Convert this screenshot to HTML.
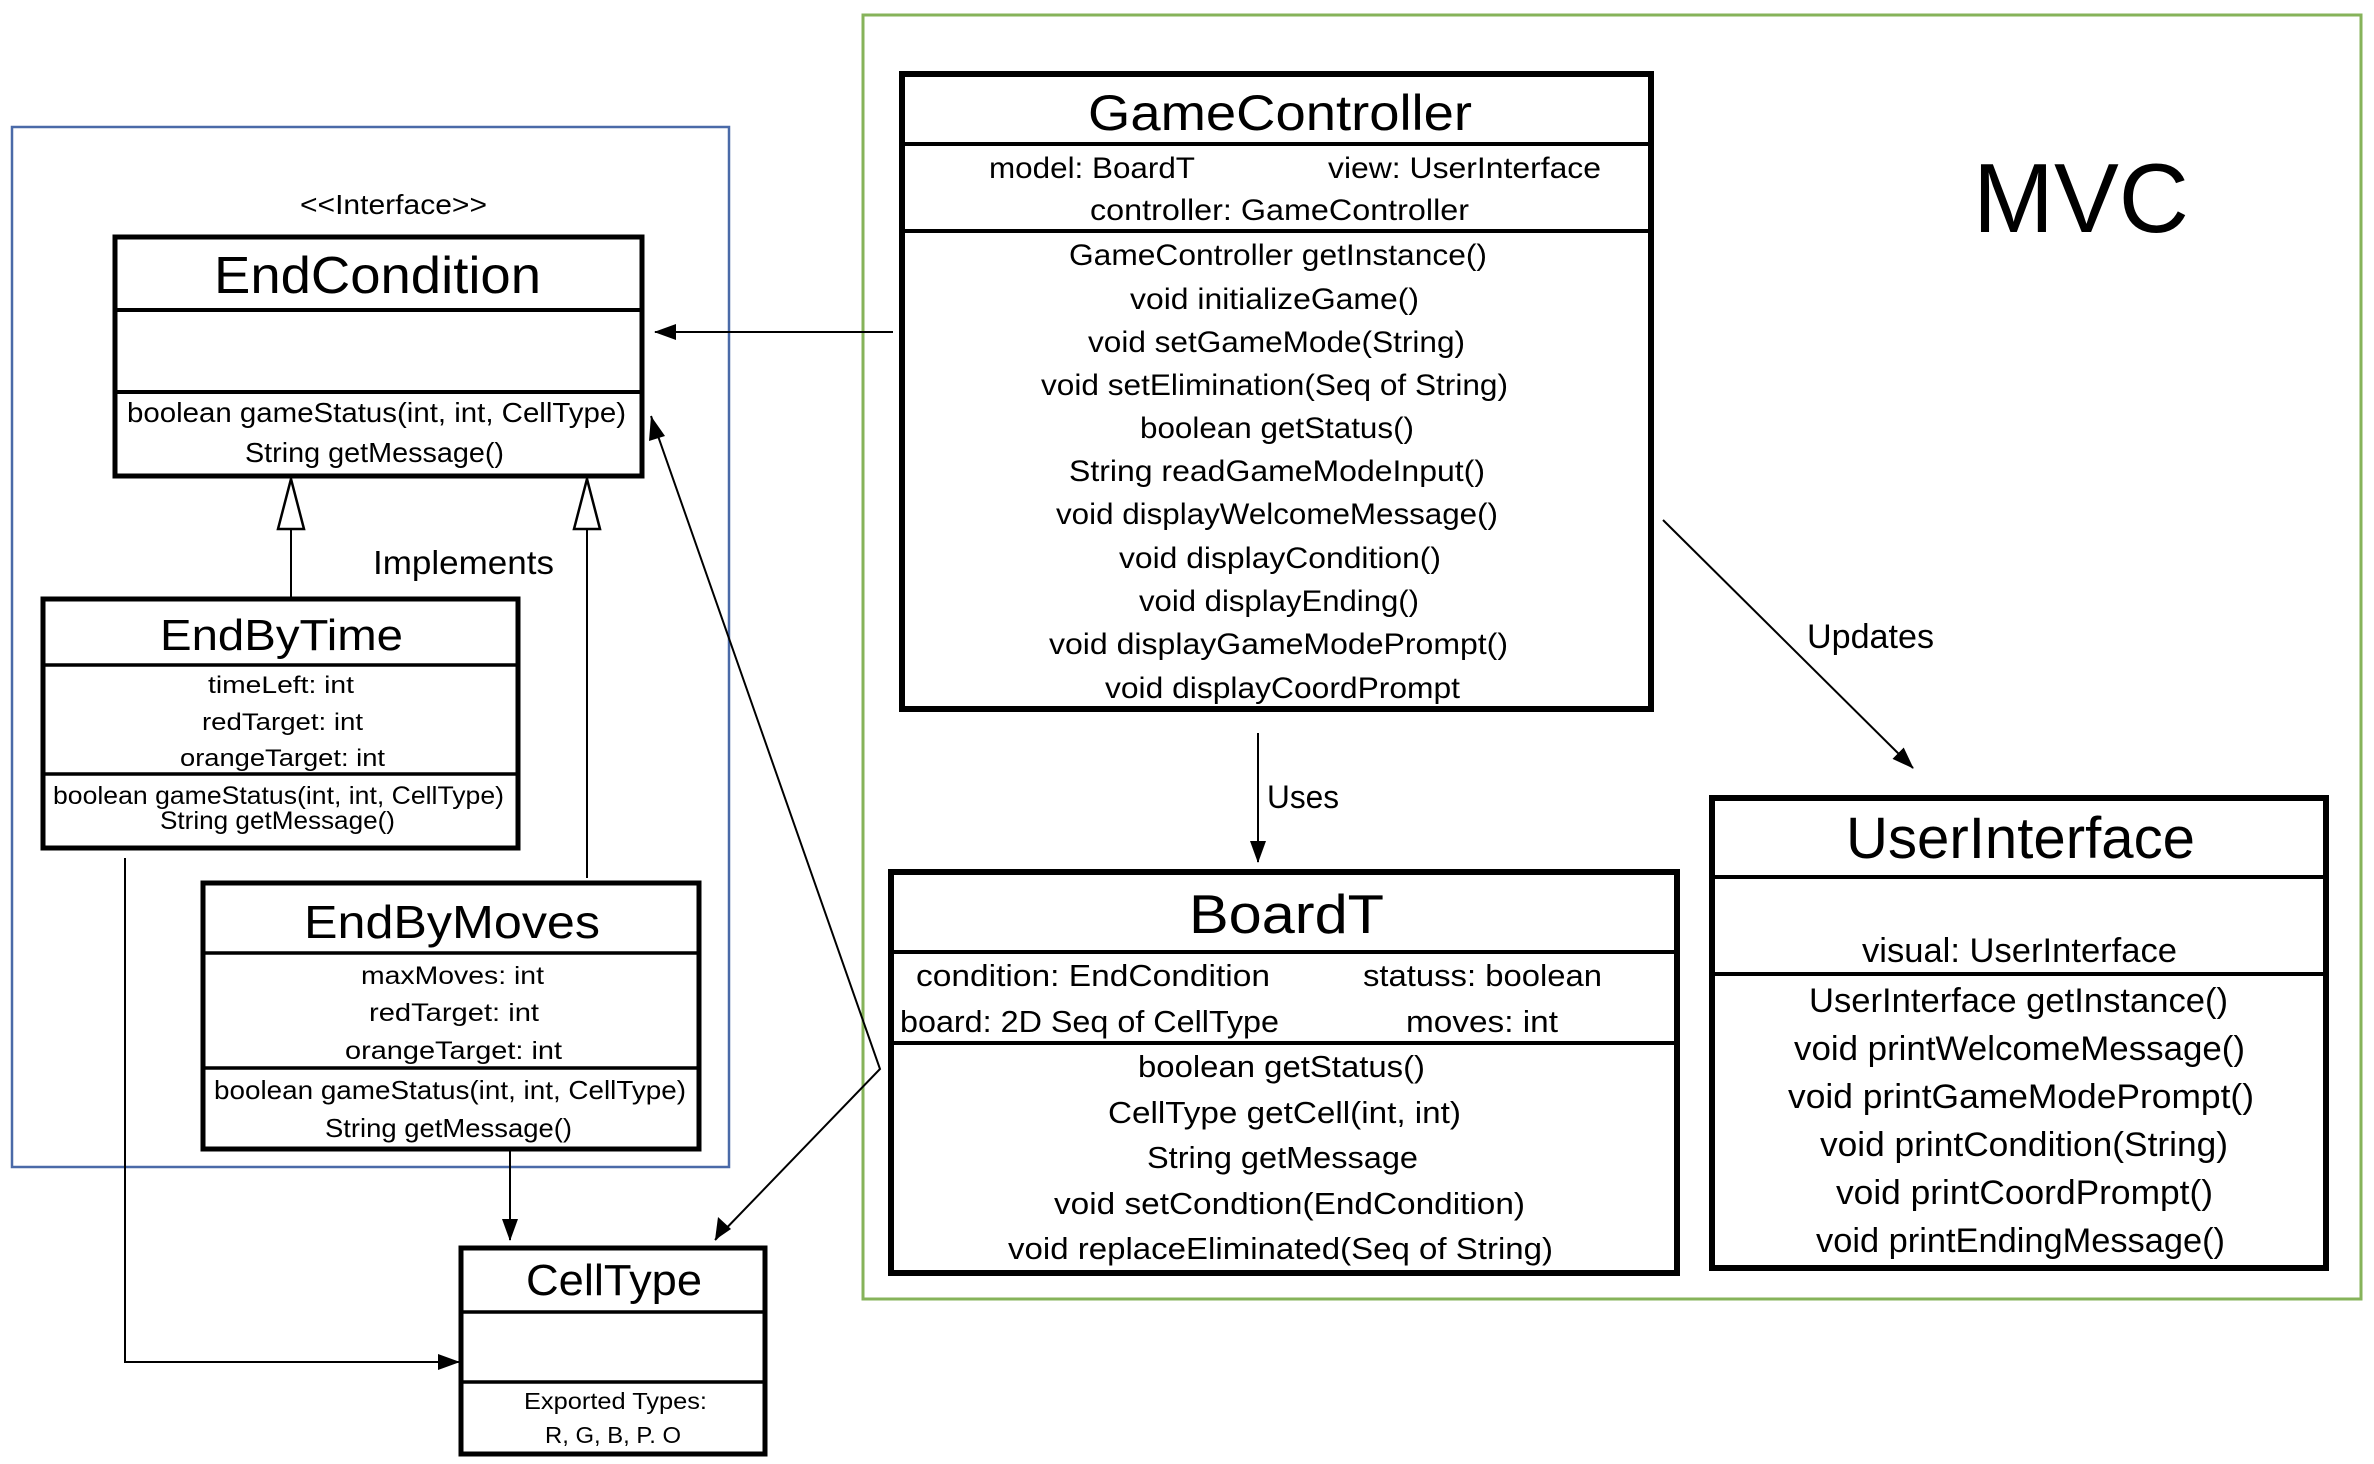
<!DOCTYPE html>
<html><head><meta charset="utf-8"><style>
html,body{margin:0;padding:0;background:#fff;}
svg{display:block;font-family:"Liberation Sans",sans-serif;}
text{fill:#000;}
</style></head><body>
<svg width="2374" height="1464" viewBox="0 0 2374 1464" xmlns="http://www.w3.org/2000/svg">
<defs>
<marker id="a" markerWidth="12" markerHeight="12" refX="11" refY="6" orient="auto" markerUnits="userSpaceOnUse" viewBox="0 0 12 12"><path d="M0,0 L12,6 L0,12 Z" fill="#000"/></marker>
<marker id="b" markerWidth="22" markerHeight="16" refX="21" refY="8" orient="auto" markerUnits="userSpaceOnUse" viewBox="0 0 22 16"><path d="M0,0 L22,8 L0,16 Z" fill="#000"/></marker>
</defs>
<!-- frames -->
<rect x="12" y="127" width="717" height="1040" fill="none" stroke="#4a6aa8" stroke-width="2.5"/>
<rect x="863" y="15" width="1498" height="1284" fill="none" stroke="#86b35a" stroke-width="3"/>
<text x="1973" y="232" font-size="98" textLength="216" lengthAdjust="spacingAndGlyphs">MVC</text>

<!-- EndCondition -->
<text x="300" y="214" font-size="28" textLength="187" lengthAdjust="spacingAndGlyphs">&lt;&lt;Interface&gt;&gt;</text>
<rect x="115" y="237" width="527" height="239" fill="#fff" stroke="#000" stroke-width="5"/>
<line x1="115" y1="310" x2="642" y2="310" stroke="#000" stroke-width="4"/>
<line x1="115" y1="392" x2="642" y2="392" stroke="#000" stroke-width="4"/>
<text x="214" y="293" font-size="52" textLength="327" lengthAdjust="spacingAndGlyphs">EndCondition</text>
<text x="127" y="422" font-size="28" textLength="499" lengthAdjust="spacingAndGlyphs">boolean gameStatus(int, int, CellType)</text>
<text x="245" y="462" font-size="28" textLength="259" lengthAdjust="spacingAndGlyphs">String getMessage()</text>

<!-- inheritance -->
<line x1="291" y1="529" x2="291" y2="602" stroke="#000" stroke-width="2"/>
<path d="M291,479 L278,529 L304,529 Z" fill="#fff" stroke="#000" stroke-width="2.5"/>
<line x1="587" y1="529" x2="587" y2="878" stroke="#000" stroke-width="2"/>
<path d="M587,479 L574,529 L600,529 Z" fill="#fff" stroke="#000" stroke-width="2.5"/>
<text x="373" y="574" font-size="33" textLength="181" lengthAdjust="spacingAndGlyphs">Implements</text>

<!-- EndByTime -->
<rect x="43" y="599" width="475" height="249" fill="#fff" stroke="#000" stroke-width="5"/>
<line x1="43" y1="665" x2="518" y2="665" stroke="#000" stroke-width="3.5"/>
<line x1="43" y1="774" x2="518" y2="774" stroke="#000" stroke-width="3.5"/>
<text x="160" y="650" font-size="44" textLength="243" lengthAdjust="spacingAndGlyphs">EndByTime</text>
<text x="208" y="693" font-size="24" textLength="146" lengthAdjust="spacingAndGlyphs">timeLeft: int</text>
<text x="202" y="730" font-size="24" textLength="161" lengthAdjust="spacingAndGlyphs">redTarget: int</text>
<text x="180" y="766" font-size="24" textLength="205" lengthAdjust="spacingAndGlyphs">orangeTarget: int</text>
<text x="53" y="804" font-size="25" textLength="451" lengthAdjust="spacingAndGlyphs">boolean gameStatus(int, int, CellType)</text>
<text x="160" y="829" font-size="25" textLength="235" lengthAdjust="spacingAndGlyphs">String getMessage()</text>

<!-- EndByMoves -->
<rect x="203" y="883" width="496" height="266" fill="#fff" stroke="#000" stroke-width="5"/>
<line x1="203" y1="953" x2="699" y2="953" stroke="#000" stroke-width="3.5"/>
<line x1="203" y1="1068" x2="699" y2="1068" stroke="#000" stroke-width="3.5"/>
<text x="304" y="938" font-size="46" textLength="296" lengthAdjust="spacingAndGlyphs">EndByMoves</text>
<text x="361" y="984" font-size="25" textLength="183" lengthAdjust="spacingAndGlyphs">maxMoves: int</text>
<text x="369" y="1021" font-size="25" textLength="170" lengthAdjust="spacingAndGlyphs">redTarget: int</text>
<text x="345" y="1059" font-size="25" textLength="217" lengthAdjust="spacingAndGlyphs">orangeTarget: int</text>
<text x="214" y="1099" font-size="26" textLength="472" lengthAdjust="spacingAndGlyphs">boolean gameStatus(int, int, CellType)</text>
<text x="325" y="1137" font-size="26" textLength="247" lengthAdjust="spacingAndGlyphs">String getMessage()</text>

<!-- CellType -->
<rect x="461" y="1248" width="304" height="206" fill="#fff" stroke="#000" stroke-width="5"/>
<line x1="461" y1="1312" x2="765" y2="1312" stroke="#000" stroke-width="3.5"/>
<line x1="461" y1="1382" x2="765" y2="1382" stroke="#000" stroke-width="3.5"/>
<text x="526" y="1295" font-size="44" textLength="176" lengthAdjust="spacingAndGlyphs">CellType</text>
<text x="524" y="1409" font-size="23" textLength="183" lengthAdjust="spacingAndGlyphs">Exported Types:</text>
<text x="545" y="1443" font-size="23" textLength="136" lengthAdjust="spacingAndGlyphs">R, G, B, P. O</text>

<!-- connectors left -->
<polyline points="125,858 125,1362 459,1362" fill="none" stroke="#000" stroke-width="2" marker-end="url(#b)"/>
<line x1="510" y1="1149" x2="510" y2="1240" stroke="#000" stroke-width="2" marker-end="url(#b)"/>
<polyline points="715,1240 880,1069 651,416" fill="none" stroke="#000" stroke-width="2"/>
<path d="M715,1240 L718,1217 L731,1229 Z" fill="#000"/>
<path d="M651,416 L649,441 L665,436 Z" fill="#000"/>
<line x1="893" y1="332" x2="655" y2="332" stroke="#000" stroke-width="2" marker-end="url(#b)"/>

<!-- GameController -->
<rect x="902" y="74" width="749" height="635" fill="#fff" stroke="#000" stroke-width="6"/>
<line x1="902" y1="144" x2="1651" y2="144" stroke="#000" stroke-width="4"/>
<line x1="902" y1="231" x2="1651" y2="231" stroke="#000" stroke-width="4"/>
<text x="1088" y="130" font-size="50" textLength="384" lengthAdjust="spacingAndGlyphs">GameController</text>
<text x="989" y="178" font-size="30" textLength="206" lengthAdjust="spacingAndGlyphs">model: BoardT</text>
<text x="1328" y="178" font-size="30" textLength="273" lengthAdjust="spacingAndGlyphs">view: UserInterface</text>
<text x="1090" y="220" font-size="30" textLength="379" lengthAdjust="spacingAndGlyphs">controller: GameController</text>
<g font-size="30">
<text x="1069" y="265" textLength="418" lengthAdjust="spacingAndGlyphs">GameController getInstance()</text>
<text x="1130" y="309" textLength="289" lengthAdjust="spacingAndGlyphs">void initializeGame()</text>
<text x="1088" y="352" textLength="377" lengthAdjust="spacingAndGlyphs">void setGameMode(String)</text>
<text x="1041" y="395" textLength="467" lengthAdjust="spacingAndGlyphs">void setElimination(Seq of String)</text>
<text x="1140" y="438" textLength="274" lengthAdjust="spacingAndGlyphs">boolean getStatus()</text>
<text x="1069" y="481" textLength="416" lengthAdjust="spacingAndGlyphs">String readGameModeInput()</text>
<text x="1056" y="524" textLength="442" lengthAdjust="spacingAndGlyphs">void displayWelcomeMessage()</text>
<text x="1119" y="568" textLength="322" lengthAdjust="spacingAndGlyphs">void displayCondition()</text>
<text x="1139" y="611" textLength="280" lengthAdjust="spacingAndGlyphs">void displayEnding()</text>
<text x="1049" y="654" textLength="459" lengthAdjust="spacingAndGlyphs">void displayGameModePrompt()</text>
<text x="1105" y="698" textLength="355" lengthAdjust="spacingAndGlyphs">void displayCoordPrompt</text>
</g>

<!-- Uses / Updates -->
<line x1="1258" y1="733" x2="1258" y2="862" stroke="#000" stroke-width="2" marker-end="url(#b)"/>
<text x="1267" y="808" font-size="32" textLength="72" lengthAdjust="spacingAndGlyphs">Uses</text>
<line x1="1663" y1="520" x2="1913" y2="768" stroke="#000" stroke-width="2" marker-end="url(#b)"/>
<text x="1807" y="648" font-size="34" textLength="127" lengthAdjust="spacingAndGlyphs">Updates</text>

<!-- BoardT -->
<rect x="891" y="872" width="786" height="401" fill="#fff" stroke="#000" stroke-width="6"/>
<line x1="891" y1="952" x2="1677" y2="952" stroke="#000" stroke-width="4"/>
<line x1="891" y1="1043" x2="1677" y2="1043" stroke="#000" stroke-width="4"/>
<text x="1189" y="933" font-size="55" textLength="195" lengthAdjust="spacingAndGlyphs">BoardT</text>
<g font-size="31">
<text x="916" y="986" textLength="354" lengthAdjust="spacingAndGlyphs">condition: EndCondition</text>
<text x="1363" y="986" textLength="239" lengthAdjust="spacingAndGlyphs">statuss: boolean</text>
<text x="900" y="1032" textLength="379" lengthAdjust="spacingAndGlyphs">board: 2D Seq of CellType</text>
<text x="1406" y="1032" textLength="152" lengthAdjust="spacingAndGlyphs">moves: int</text>
<text x="1138" y="1077" textLength="287" lengthAdjust="spacingAndGlyphs">boolean getStatus()</text>
<text x="1108" y="1123" textLength="353" lengthAdjust="spacingAndGlyphs">CellType getCell(int, int)</text>
<text x="1147" y="1168" textLength="271" lengthAdjust="spacingAndGlyphs">String getMessage</text>
<text x="1054" y="1214" textLength="471" lengthAdjust="spacingAndGlyphs">void setCondtion(EndCondition)</text>
<text x="1008" y="1259" textLength="545" lengthAdjust="spacingAndGlyphs">void replaceEliminated(Seq of String)</text>
</g>

<!-- UserInterface -->
<rect x="1712" y="798" width="614" height="470" fill="#fff" stroke="#000" stroke-width="6"/>
<line x1="1712" y1="877" x2="2326" y2="877" stroke="#000" stroke-width="4"/>
<line x1="1712" y1="974" x2="2326" y2="974" stroke="#000" stroke-width="4"/>
<text x="1846" y="858" font-size="58" textLength="349" lengthAdjust="spacingAndGlyphs">UserInterface</text>
<g font-size="34">
<text x="1862" y="962" textLength="315" lengthAdjust="spacingAndGlyphs">visual: UserInterface</text>
<text x="1809" y="1012" textLength="419" lengthAdjust="spacingAndGlyphs">UserInterface getInstance()</text>
<text x="1794" y="1060" textLength="451" lengthAdjust="spacingAndGlyphs">void printWelcomeMessage()</text>
<text x="1788" y="1108" textLength="466" lengthAdjust="spacingAndGlyphs">void printGameModePrompt()</text>
<text x="1820" y="1156" textLength="408" lengthAdjust="spacingAndGlyphs">void printCondition(String)</text>
<text x="1836" y="1204" textLength="377" lengthAdjust="spacingAndGlyphs">void printCoordPrompt()</text>
<text x="1816" y="1252" textLength="409" lengthAdjust="spacingAndGlyphs">void printEndingMessage()</text>
</g>
</svg>
</body></html>
